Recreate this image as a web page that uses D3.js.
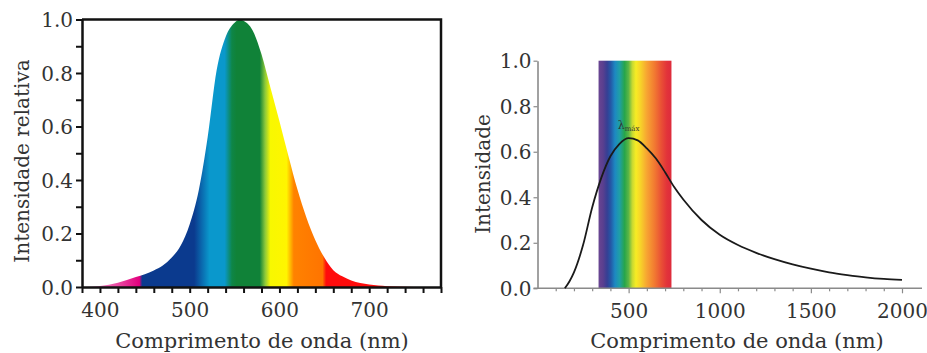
<!DOCTYPE html>
<html>
<head>
<meta charset="utf-8">
<script src="https://cdn.jsdelivr.net/npm/d3@7/dist/d3.min.js"></script>
<style>
  body { margin: 0; background: #fff; }
  svg text { font-family: "DejaVu Serif", serif; fill: #333; }
</style>
</head>
<body>
<svg id="chart" width="927" height="353"></svg>
<script>
// ---- left panel: relative sensitivity ----
const leftNm  = [380, 400, 420, 440, 460, 470, 480, 490, 500, 510, 520, 530, 540, 550, 556, 560, 570, 580, 590, 600, 610, 620, 630, 640, 650, 660, 670, 680, 700, 720, 740, 760, 780];
const leftVal = [0, 0.004, 0.016, 0.037, 0.062, 0.08, 0.11, 0.155, 0.235, 0.36, 0.56, 0.81, 0.935, 0.988, 1.0, 0.995, 0.96, 0.87, 0.745, 0.62, 0.49, 0.365, 0.26, 0.175, 0.11, 0.063, 0.04, 0.024, 0.009, 0.003, 0.001, 0, 0];
const leftXTicks  = d3.range(380, 781, 20);
const leftXLabels = [400, 500, 600, 700];
const leftYTicks  = [0, 0.1, 0.2, 0.3, 0.4, 0.5, 0.6, 0.7, 0.8, 0.9, 1.0];
const leftYLabels = [0, 0.2, 0.4, 0.6, 0.8, 1.0];

// colour bands painted under the left curve
const leftBandNm    = [380, 420, 444, 447, 505, 514, 522, 539, 547, 552, 578, 584, 590, 608, 616, 648, 652, 780];
const leftBandColor = ["#f4a6d6", "#ea4aa2", "#e2007e", "#0b3a8e", "#0b3a8e", "#0a6cb0", "#0a98cc", "#0a98cc", "#0e8648", "#108238", "#108238", "#8cc83a", "#f8f800", "#fff500", "#ff8200", "#ff7400", "#ff0c0c", "#ff0c0c"];

// ---- right panel: emission spectrum ----
const rightNm  = [150, 175, 200, 250, 300, 350, 400, 450, 500, 550, 600, 650, 700, 750, 800, 900, 1000, 1100, 1200, 1300, 1400, 1500, 1600, 1700, 1800, 1900, 2000];
const rightVal = [0, 0.03, 0.07, 0.19, 0.355, 0.485, 0.58, 0.635, 0.66, 0.65, 0.615, 0.57, 0.51, 0.445, 0.39, 0.3, 0.235, 0.19, 0.156, 0.128, 0.105, 0.086, 0.07, 0.058, 0.048, 0.041, 0.037];
const rightXTicks  = d3.range(100, 2001, 100);
const rightXLabels = [500, 1000, 1500, 2000];
const rightYLabels = [0, 0.2, 0.4, 0.6, 0.8, 1.0];
const visibleRange = [335, 735];

const rightBandNm    = [335, 360, 382, 402, 425, 450, 478, 500, 520, 540, 565, 600, 640, 680, 710, 735];
const rightBandColor = ["#6a4592", "#5a3f8f", "#363f94", "#2458a6", "#1d88c2", "#1f9fa6", "#27a54a", "#5eb645", "#c6d932", "#f6ec24", "#f7d329", "#f7a432", "#f27c31", "#e94f35", "#e2333a", "#de2b3c"];

const svg = d3.select("#chart");
const defs = svg.append("defs");
const fmt = d3.format(".1f");

function addGradient(id, scale, nms, colors) {
    const lo = nms[0], hi = nms[nms.length - 1];
    const g = defs.append("linearGradient")
        .attr("id", id)
        .attr("gradientUnits", "userSpaceOnUse")
        .attr("x1", scale(lo)).attr("x2", scale(hi))
        .attr("y1", 0).attr("y2", 0);
    nms.forEach((nm, i) => {
        g.append("stop")
            .attr("offset", (nm - lo) / (hi - lo))
            .attr("stop-color", colors[i]);
    });
}

// ================= left chart =================
{
    const x = d3.scaleLinear().domain([380, 780]).range([82, 441]);
    const y = d3.scaleLinear().domain([0, 1]).range([287, 19.5]);
    const g = svg.append("g");

    addGradient("leftGrad", x, leftBandNm, leftBandColor);

    const pts = leftNm.map((nm, i) => [nm, leftVal[i]]);
    const area = d3.area()
        .x(d => x(d[0]))
        .y0(y(0))
        .y1(d => y(d[1]))
        .curve(d3.curveMonotoneX);
    g.append("path").datum(pts)
        .attr("d", area)
        .attr("fill", "url(#leftGrad)");

    // frame (top + right)
    g.append("path")
        .attr("d", `M${x(380)},${y(1)}H${x(780)}V${y(0)}`)
        .attr("fill", "none").attr("stroke", "#111").attr("stroke-width", 2.5);

    const xAxis = g.append("g")
        .attr("transform", `translate(0,${y(0)})`)
        .call(d3.axisBottom(x).tickValues(leftXTicks).tickSize(6).tickSizeOuter(0)
            .tickFormat(d => leftXLabels.includes(d) ? d : ""));
    const yAxis = g.append("g")
        .attr("transform", `translate(${x(380)},0)`)
        .call(d3.axisLeft(y).tickValues(leftYTicks).tickSize(6).tickSizeOuter(0)
            .tickFormat(d => leftYLabels.some(v => Math.abs(v - d) < 1e-6) ? fmt(d) : ""));

    [xAxis, yAxis].forEach(a => {
        a.select(".domain").attr("stroke", "#111").attr("stroke-width", 2.5);
        a.selectAll(".tick line").attr("stroke", "#111").attr("stroke-width", 2);
        a.selectAll(".tick text").style("font-size", "20px").attr("fill", "#333");
    });
    xAxis.selectAll(".tick text").attr("dy", null).attr("y", 30);
    yAxis.selectAll(".tick text").attr("x", -9).attr("dy", "0.36em");

    g.append("text")
        .attr("x", 262).attr("y", 348)
        .attr("text-anchor", "middle")
        .style("font-size", "21px")
        .text("Comprimento de onda (nm)");
    g.append("text")
        .attr("transform", `translate(29,161) rotate(-90)`)
        .attr("text-anchor", "middle")
        .style("font-size", "20px")
        .text("Intensidade relativa");
}

// ================= right chart =================
{
    const x = d3.scaleLinear().domain([0, 2000]).range([537.5, 902]);
    const y = d3.scaleLinear().domain([0, 1]).range([288.3, 60.7]);
    const g = svg.append("g");

    addGradient("rightGrad", x, rightBandNm, rightBandColor);

    g.append("rect")
        .attr("x", x(visibleRange[0]))
        .attr("y", y(1))
        .attr("width", x(visibleRange[1]) - x(visibleRange[0]))
        .attr("height", y(0) - y(1))
        .attr("fill", "url(#rightGrad)");

    const xAxis = g.append("g")
        .attr("transform", `translate(0,${y(0)})`)
        .call(d3.axisBottom(x).tickValues(rightXTicks).tickSize(3).tickSizeOuter(0)
            .tickFormat(d => rightXLabels.includes(d) ? d : ""));
    xAxis.select(".domain").attr("d", `M${x(0) - 4},0H922`);
    xAxis.selectAll(".tick line")
        .attr("y2", d => rightXLabels.includes(d) ? 5 : 3);

    const yAxis = g.append("g")
        .attr("transform", `translate(${x(0)},0)`)
        .call(d3.axisLeft(y).tickValues(rightYLabels).tickSize(4).tickSizeOuter(0)
            .tickFormat(fmt));

    [xAxis, yAxis].forEach(a => {
        a.select(".domain").attr("stroke", "#8a8a8a").attr("stroke-width", 1.6);
        a.selectAll(".tick line").attr("stroke", "#8a8a8a").attr("stroke-width", 1.2);
        a.selectAll(".tick text").style("font-size", "20px").attr("fill", "#444");
    });
    xAxis.selectAll(".tick text").attr("dy", null).attr("y", 30);
    yAxis.selectAll(".tick text").attr("x", -6).attr("dy", "0.36em");

    const pts = rightNm.map((nm, i) => [nm, rightVal[i]]);
    const line = d3.line()
        .x(d => x(d[0]))
        .y(d => y(d[1]))
        .curve(d3.curveMonotoneX);
    g.append("path").datum(pts)
        .attr("d", line)
        .attr("fill", "none")
        .attr("stroke", "#1a1a1a")
        .attr("stroke-width", 1.8);

    // peak label
    const peak = d3.greatestIndex(rightVal);
    const lbl = g.append("text")
        .attr("x", x(rightNm[peak]))
        .attr("y", y(rightVal[peak]) - 9)
        .attr("text-anchor", "middle")
        .style("font-size", "11px")
        .attr("fill", "#2a4a3a");
    lbl.append("tspan").text("λ");
    lbl.append("tspan").attr("dy", 2).style("font-size", "7px").text("máx");

    g.append("text")
        .attr("x", 737).attr("y", 348)
        .attr("text-anchor", "middle")
        .style("font-size", "21px")
        .text("Comprimento de onda (nm)");
    g.append("text")
        .attr("transform", `translate(490,174) rotate(-90)`)
        .attr("text-anchor", "middle")
        .style("font-size", "20px")
        .text("Intensidade");
}
</script>
</body>
</html>
